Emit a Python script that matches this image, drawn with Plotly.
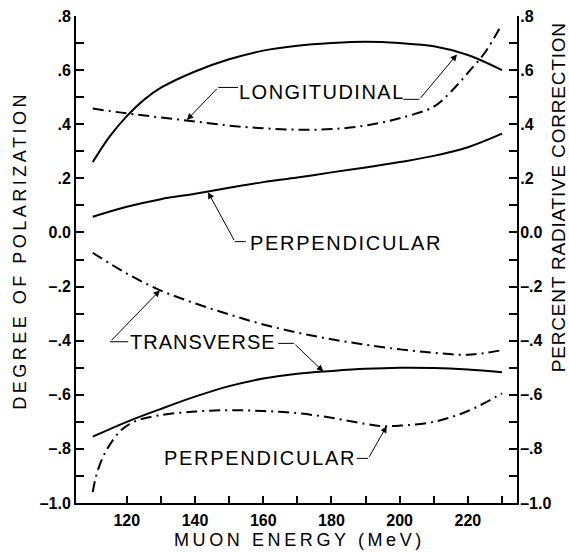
import plotly.graph_objects as go

# ---------------- data ----------------
# Degree of polarization (solid curves, left axis)
energy_long_pol = [110, 115, 120, 125, 130, 140, 150, 160, 170, 180, 190, 200, 210, 220, 230]
long_pol = [0.26, 0.355, 0.43, 0.49, 0.535, 0.595, 0.64, 0.672, 0.69, 0.70, 0.705, 0.70, 0.688, 0.656, 0.60]

energy_perp_pol = [110, 120, 130, 140, 150, 160, 170, 180, 190, 200, 210, 220, 230]
perp_pol = [0.058, 0.095, 0.123, 0.143, 0.165, 0.186, 0.203, 0.222, 0.24, 0.26, 0.283, 0.315, 0.365]

energy_trans_pol = [110, 120, 130, 140, 150, 160, 170, 180, 190, 200, 210, 220, 230]
trans_pol = [-0.755, -0.70, -0.652, -0.607, -0.568, -0.54, -0.522, -0.512, -0.504, -0.50, -0.501, -0.507, -0.517]

# Percent radiative correction (dash-dot curves, right axis)
energy_long_rad = [110, 120, 130, 140, 150, 160, 170, 180, 190, 200, 210, 215, 220, 225, 230]
long_rad = [0.458, 0.44, 0.425, 0.41, 0.395, 0.385, 0.38, 0.382, 0.395, 0.422, 0.465, 0.52, 0.59, 0.665, 0.77]

energy_trans_rad = [110, 120, 130, 140, 150, 160, 170, 180, 190, 200, 210, 220, 230]
trans_rad = [-0.075, -0.152, -0.215, -0.262, -0.303, -0.34, -0.37, -0.395, -0.415, -0.432, -0.445, -0.452, -0.435]

energy_perp_rad = [110, 111, 113, 115, 118, 120, 123, 130, 140, 150, 160, 170, 180, 190, 195, 200, 210, 220, 230]
perp_rad = [-0.96, -0.90, -0.83, -0.785, -0.735, -0.715, -0.695, -0.675, -0.662, -0.657, -0.66, -0.668,
            -0.685, -0.708, -0.716, -0.714, -0.70, -0.66, -0.595]

x_tickvals = [120, 130, 140, 150, 160, 170, 180, 190, 200, 210, 220, 230]
x_ticktext = ["120", "", "140", "", "160", "", "180", "", "200", "", "220", ""]
y_tickvals = [0.8, 0.6, 0.4, 0.2, 0.0, -0.2, -0.4, -0.6, -0.8, -1.0]
y_ticktext = [".8", ".6", ".4", ".2", "0.0", "\u2013.2", "\u2013.4", "\u2013.6", "\u2013.8", "\u20131.0"]
y_minorvals = [0.7, 0.5, 0.3, 0.1, -0.1, -0.3, -0.5, -0.7, -0.9]

FONT = "Liberation Sans, Arial, sans-serif"
DASHDOT = "11px,5px,2px,5px"

fig = go.Figure()

solid = dict(color="black", width=2, shape="spline", smoothing=1.0)
dashdot = dict(color="black", width=2, shape="spline", smoothing=1.0, dash=DASHDOT)

fig.add_trace(go.Scatter(x=energy_long_pol, y=long_pol, mode="lines", line=solid, name="Longitudinal"))
fig.add_trace(go.Scatter(x=energy_perp_pol, y=perp_pol, mode="lines", line=solid, name="Perpendicular"))
fig.add_trace(go.Scatter(x=energy_trans_pol, y=trans_pol, mode="lines", line=solid, name="Transverse"))
fig.add_trace(go.Scatter(x=energy_long_rad, y=long_rad, mode="lines", line=dashdot, yaxis="y2",
                         name="Longitudinal (rad. corr.)"))
fig.add_trace(go.Scatter(x=energy_trans_rad, y=trans_rad, mode="lines", line=dashdot, yaxis="y2",
                         name="Transverse (rad. corr.)"))
fig.add_trace(go.Scatter(x=energy_perp_rad, y=perp_rad, mode="lines", line=dashdot, yaxis="y2",
                         name="Perpendicular (rad. corr.)"))

# ---------------- labels with leader lines ----------------
def label(text, x, y, size=20, spacing=1.5):
    fig.add_annotation(x=x, y=y, xref="x", yref="y", showarrow=False,
                       text=f'<span style="letter-spacing:{spacing}px">{text}</span>',
                       font=dict(family=FONT, size=size, color="black"))

def leader(x0, x1, y_h, hx, hy):
    # short horizontal tick next to the text, then an arrow to the curve
    fig.add_shape(type="line", xref="x", yref="y", x0=x0, x1=x1, y0=y_h, y1=y_h,
                  line=dict(color="black", width=1))
    fig.add_annotation(x=hx, y=hy, ax=x0, ay=y_h, xref="x", yref="y", axref="x", ayref="y",
                       text="", showarrow=True, arrowhead=2, arrowsize=1.3, arrowwidth=1,
                       arrowcolor="black", standoff=0, startstandoff=0)

label("LONGITUDINAL", 177.2, 0.52, spacing=1.5)
leader(146.8, 152.6, 0.536, 137.6, 0.416)
leader(205.8, 201.1, 0.492, 216.8, 0.658)

label("PERPENDICULAR", 184.2, -0.039, spacing=1.7)
leader(151.7, 154.9, -0.034, 143.8, 0.149)

label("TRANSVERSE", 142.2, -0.404, spacing=1.0)
leader(115.1, 120.4, -0.404, 129.7, -0.214)
leader(169.0, 164.4, -0.41, 177.6, -0.514)

label("PERPENDICULAR", 159.1, -0.835, spacing=1.7)
leader(190.8, 187.4, -0.835, 196.2, -0.716)

# axis titles
fig.add_annotation(xref="paper", yref="paper", x=-0.127, y=0.52, xanchor="center", yanchor="middle",
                   showarrow=False, textangle=-90,
                   text='<span style="letter-spacing:3.5px">DEGREE OF POLARIZATION</span>',
                   font=dict(family=FONT, size=18, color="black"))
fig.add_annotation(xref="paper", yref="paper", x=1.093, y=0.628, xanchor="center", yanchor="middle",
                   showarrow=False, textangle=-90,
                   text='<span style="letter-spacing:0.8px">PERCENT RADIATIVE CORRECTION</span>',
                   font=dict(family=FONT, size=19, color="black"))
fig.add_annotation(xref="paper", yref="paper", x=0.507, y=-0.076, xanchor="center", yanchor="middle",
                   showarrow=False,
                   text='<span style="letter-spacing:3.6px">MUON ENERGY (MeV)</span>',
                   font=dict(family=FONT, size=18, color="black"))

axis_common = dict(showgrid=False, zeroline=False, showline=True, linecolor="black", linewidth=2,
                   ticks="inside", tickcolor="black", tickwidth=1.5, automargin=False,
                   ticklabeloverflow="allow",
                   tickfont=dict(family=FONT, size=16, color="black", weight="bold"))
minor_common = dict(tickvals=y_minorvals, ticks="inside", ticklen=8, tickcolor="black", tickwidth=1.5)

fig.update_layout(
    width=569, height=552,
    margin=dict(l=76, r=52, t=16, b=49, autoexpand=False),
    paper_bgcolor="white", plot_bgcolor="white",
    showlegend=False,
    hovermode=False,
    xaxis=dict(range=[105.1, 234.4], tickvals=x_tickvals, ticktext=x_ticktext, ticklen=7,
               ticklabelstandoff=2, **axis_common),
    yaxis=dict(range=[-1.0, 0.8], tickvals=y_tickvals, ticktext=y_ticktext, ticklen=8,
               minor=minor_common, **axis_common),
    yaxis2=dict(range=[-1.0, 0.8], overlaying="y", side="right", tickvals=y_tickvals,
                ticktext=y_ticktext, ticklen=8, minor=minor_common, ticklabelstandoff=-2,
                **axis_common),
)

# remove the browser's default page margin so the figure fills the window exactly
fig.write_html("out.html",
               config={"displayModeBar": False},
               post_script="document.body.style.margin='0';document.body.style.overflow='hidden';")
